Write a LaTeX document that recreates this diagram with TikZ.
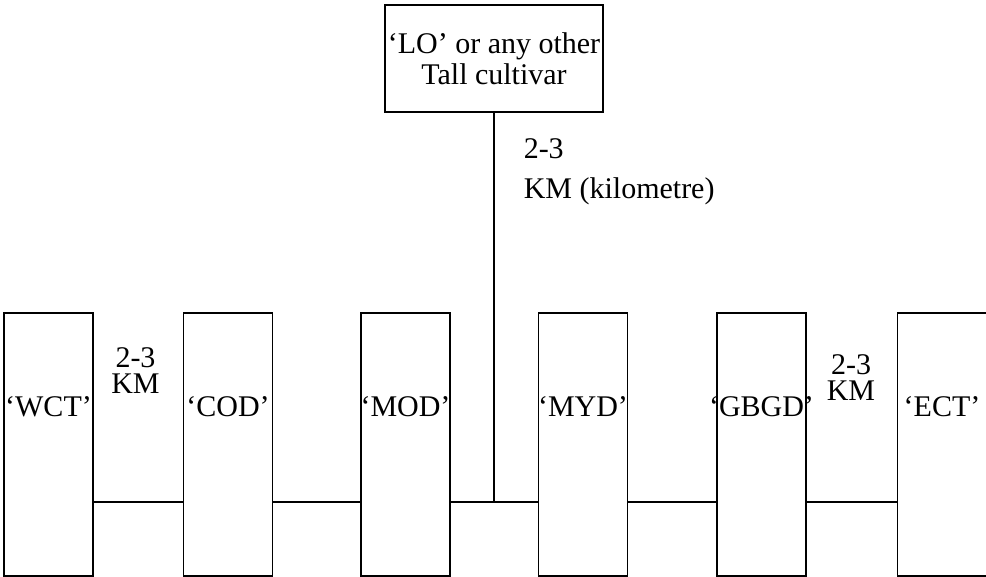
\documentclass[tikz,border=0pt]{standalone}
\usepackage{fontspec}
\setmainfont{Liberation Serif}
\usetikzlibrary{positioning}

\begin{document}
\begin{tikzpicture}[
  x=1pt,
  y=-1pt,
  line width=1.5pt,
  every node/.style={font=\fontsize{30}{31}\selectfont},
  plant/.style={draw, minimum width=89pt, minimum height=263pt, inner sep=0pt},
  source/.style={draw, minimum width=218pt, minimum height=107pt, align=center, inner sep=0pt},
  tag/.style={anchor=base, inner sep=0pt},
  dist/.style={anchor=base, inner sep=0pt, align=center, font=\fontsize{30}{26}\selectfont}
]
\useasboundingbox (0,0) rectangle (986,577);

% tall pollen source
\node[source] (lo) at (494,58.5) {`LO' or any other\\Tall cultivar};

% dwarf and tall blocks
\node[plant] (wct) at (48.5,444.5) {};
\node[plant] (cod) at (228,444.5) {};
\node[plant] (mod) at (405.5,444.5) {};
\node[plant] (myd) at (583,444.5) {};
\node[plant] (gbgd) at (761.5,444.5) {};
\node[plant] (ect) at (942,444.5) {};

\foreach \b/\t in {wct/WCT,cod/COD,mod/MOD,myd/MYD,gbgd/GBGD,ect/ECT} {
  \node[tag] (\b txt) at ([yshift=-104pt]\b.north) {`\t'};
}

% connectors
\coordinate (jn) at (494,502);
\draw (lo.south) -- (jn);
\draw (wct.east |- jn) -- (cod.west |- jn);
\draw (cod.east |- jn) -- (mod.west |- jn);
\draw (mod.east |- jn) -- (myd.west |- jn);
\draw (myd.east |- jn) -- (gbgd.west |- jn);
\draw (gbgd.east |- jn) -- (ect.west |- jn);

% distances
\node[dist] (d1) at (135.5,394) {2-3\\KM};
\node[dist] (d2) at (851,401) {2-3\\KM};
\node[dist, anchor=base west, align=left, font=\fontsize{30}{40}\selectfont] (d3) at (523,199) {2-3\\KM (kilometre)};
\end{tikzpicture}
\end{document}
